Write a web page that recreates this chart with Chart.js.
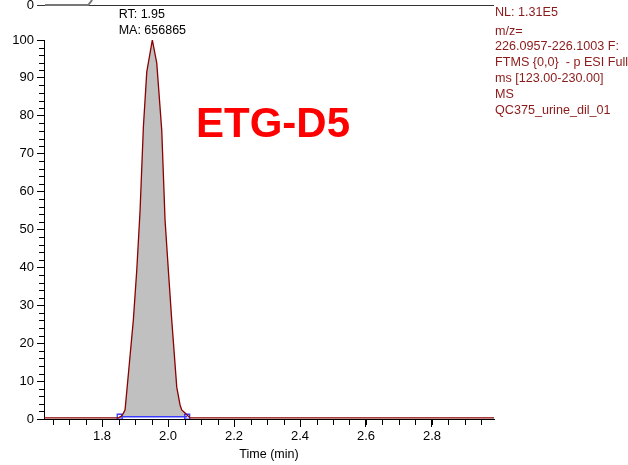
<!DOCTYPE html>
<html lang="en">
<head>
<meta charset="UTF-8">
<title>ETG-D5</title>
<script src="https://cdn.jsdelivr.net/npm/chart.js"></script>
<style>
  body { margin: 0; background: #fff; }
  .wrap { position: relative; width: 628px; height: 465px; }
</style>
</head>
<body>
<div class="wrap"><canvas id="c"></canvas></div>
<script>
  // chromatogram trace (time in min, relative abundance %)
  const traceTime = [1.624, 1.70, 1.78, 1.85, 1.858, 1.8645, 1.8697, 1.8818, 1.8948, 1.9052, 1.9152, 1.9252, 1.9355, 1.9524,
    1.9658, 1.9809, 1.9909, 2.0009, 2.0112, 2.0264, 2.0364, 2.0415, 2.0515, 2.0667, 2.15, 2.4, 2.7, 2.988];
  const traceInt = [0.3, 0.3, 0.3, 0.3, 0.7, 1.5, 2.4, 13.8, 26.1, 39.3, 55.0, 77.0, 91.6, 100,
    93.9, 76.2, 52.5, 39.3, 26.1, 8.4, 3.7, 2.4, 1.6, 0.3, 0.3, 0.3, 0.3, 0.3];

  // integration baseline
  const peakStart = 1.8536;
  const peakEnd = 2.058;
  const baseLevel = 0.6;

  const rtLabel = 'RT: 1.95';
  const maLabel = 'MA: 656865';
  const apexTime = 1.9524;
  const title = 'ETG-D5';
  const infoLines = ['NL: 1.31E5', 'm/z=', '226.0957-226.1003 F:', 'FTMS {0,0}  - p ESI Full', 'ms [123.00-230.00]', 'MS', 'QC375_urine_dil_01'];

  const font = '"Liberation Sans", Arial, Helvetica, sans-serif';

  const trace = traceTime.map((t, i) => ({ x: t, y: traceInt[i] }));
  const peak = [{ x: peakStart, y: baseLevel }]
    .concat(trace.filter(p => p.x > peakStart && p.x < peakEnd))
    .concat([{ x: peakEnd, y: baseLevel }]);

  const deco = {
    id: 'deco',
    afterDraw(ch) {
      const x = ch.scales.x, y = ch.scales.y, a = ch.chartArea, c = ch.ctx;
      c.save();
      c.strokeStyle = '#000';
      c.lineWidth = 1;
      // minor ticks
      c.beginPath();
      for (let v = 1.65; v < 2.99; v += 0.05) {
        const px = Math.round(x.getPixelForValue(v)) + 0.5;
        c.moveTo(px, a.bottom); c.lineTo(px, a.bottom + 6);
      }
      for (let v = 2; v < 100; v += 2) {
        if (v % 10 === 0) continue;
        const py = Math.round(y.getPixelForValue(v)) + 0.5;
        c.moveTo(a.left, py); c.lineTo(a.left - 5, py);
      }
      c.stroke();

      // remnant of panel above
      c.strokeStyle = '#333';
      c.beginPath();
      c.moveTo(a.left - 7, 5.5); c.lineTo(a.right, 5.5);
      c.stroke();
      c.strokeStyle = '#777';
      c.lineWidth = 2;
      c.beginPath();
      c.moveTo(a.left + 1, 5); c.lineTo(x.getPixelForValue(1.758), 5); c.lineTo(x.getPixelForValue(1.77), 0);
      c.stroke();
      c.fillStyle = '#000';
      c.font = '13px ' + font;
      c.textAlign = 'right';
      c.textBaseline = 'middle';
      c.fillText('0', a.left - 10, 5);

      // peak labels
      c.font = '12.5px ' + font;
      c.textAlign = 'left';
      const ax = x.getPixelForValue(apexTime);
      const w = c.measureText(maLabel).width;
      c.fillText(rtLabel, ax - w / 2, 15);
      c.fillText(maLabel, ax - w / 2, 31);

      // compound name
      c.fillStyle = '#ff0000';
      c.font = 'bold 42px ' + font;
      c.textAlign = 'center';
      c.fillText(title, 273, 125);

      // info block
      c.fillStyle = '#8b1a1a';
      c.font = '12.6px ' + font;
      c.textAlign = 'left';
      const ys = [13, 32, 47, 63, 79, 95, 111];
      infoLines.forEach((s, i) => c.fillText(s, a.right + 1, ys[i]));
      c.restore();
    }
  };

  new Chart(document.getElementById('c'), {
    type: 'line',
    data: {
      datasets: [
        {
          data: trace,
          borderColor: '#8b0000',
          borderWidth: 1.3,
          pointRadius: 0,
          tension: 0,
          fill: false,
          order: 0
        },
        {
          data: [{ x: peakStart, y: baseLevel }, { x: peakEnd, y: baseLevel }],
          borderColor: '#3a3aff',
          borderWidth: 1.3,
          pointStyle: 'rect',
          pointRadius: 3.5,
          pointBorderColor: '#3a3aff',
          pointBackgroundColor: 'rgba(0,0,0,0)',
          pointBorderWidth: 1.3,
          fill: false,
          order: 1
        },
        {
          data: peak,
          borderWidth: 0,
          pointRadius: 0,
          tension: 0,
          backgroundColor: '#c0c0c0',
          fill: { value: baseLevel },
          order: 2
        }
      ]
    },
    options: {
      responsive: true,
      maintainAspectRatio: false,
      animation: false,
      layout: { padding: { top: 40, right: 134, left: 0, bottom: 0 } },
      plugins: { legend: { display: false }, tooltip: { enabled: false } },
      scales: {
        x: {
          type: 'linear',
          min: 1.624,
          max: 2.988,
          afterFit: s => { s.height = 46; },
          border: { display: true, color: '#000', width: 1 },
          grid: { drawOnChartArea: false, drawTicks: true, tickLength: 8, color: '#000' },
          ticks: {
            stepSize: 0.2,
            includeBounds: false,
            maxRotation: 0,
            padding: 2,
            color: '#000',
            font: { family: font, size: 13 },
            callback: v => Number(v).toFixed(1)
          },
          title: { display: true, text: 'Time (min)', color: '#000', font: { family: font, size: 12.5 }, padding: { top: 0, bottom: 3 } }
        },
        y: {
          min: 0,
          max: 100,
          afterFit: s => { s.width = 44; },
          border: { display: true, color: '#000', width: 1 },
          grid: { drawOnChartArea: false, drawTicks: true, tickLength: 7, color: '#000' },
          ticks: { stepSize: 10, padding: 3, color: '#000', font: { family: font, size: 13 } }
        }
      }
    },
    plugins: [deco]
  });
</script>
</body>
</html>
